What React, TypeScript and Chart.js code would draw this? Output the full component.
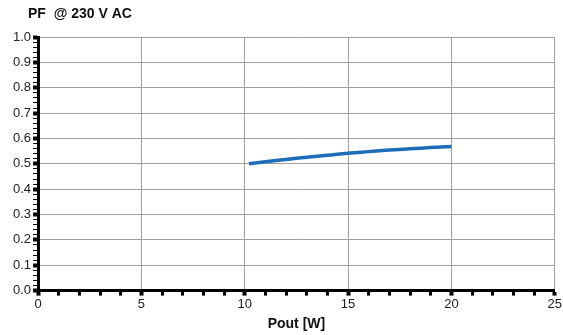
import React, { useEffect, useRef } from "react";
import { Chart, registerables } from "chart.js";

Chart.register(...registerables);

const powerOut = [10.2, 11, 12, 13, 14, 15, 16, 17, 18, 19, 20];
const pfValues = [0.5, 0.508, 0.517, 0.526, 0.534, 0.542, 0.548, 0.554, 0.559, 0.564, 0.568];
const chartTitle = "PF  @ 230 V AC";
const xTitle = "Pout [W]";

const titlePlugin = {
  id: "leftTitle",
  afterDraw(chart: any) {
    const ctx = chart.ctx;
    ctx.save();
    ctx.font = "bold 14px 'Liberation Sans', Arial, sans-serif";
    ctx.fillStyle = "#111";
    ctx.textBaseline = "middle";
    ctx.textAlign = "left";
    ctx.fillText(chartTitle, 28, 14);
    ctx.restore();
  },
};

export default function App() {
  const ref = useRef<HTMLCanvasElement | null>(null);
  useEffect(() => {
    document.body.style.margin = "0";
    const chart = new Chart(ref.current!, {
      type: "line",
      data: {
        datasets: [
          {
            data: powerOut.map((x, i) => ({ x, y: pfValues[i] })),
            borderColor: "#1c6cb8",
            borderWidth: 3.5,
            pointRadius: 0,
            tension: 0.4,
            fill: false,
          },
        ],
      },
      plugins: [titlePlugin],
      options: {
        animation: false,
        responsive: false,
        layout: { padding: { top: 37, right: 7, left: 11, bottom: 2 } },
        plugins: { legend: { display: false }, title: { display: false }, tooltip: { enabled: false } },
        scales: {
          x: {
            type: "linear",
            min: 0,
            max: 25,
            border: { color: "#000", width: 3 },
            grid: {
              color: (c: any) => (Math.round(c.tick.value) % 5 === 0 ? "#a0a0a0" : "rgba(0,0,0,0)"),
              lineWidth: 1,
              tickColor: "#000",
              tickLength: 5,
              tickWidth: (c: any) => (Math.round(c.tick.value) % 5 === 0 ? 4 : 3),
            },
            ticks: {
              stepSize: 1,
              autoSkip: false,
              maxRotation: 0,
              color: "#222",
              font: { size: 13, family: "'Liberation Sans', Arial, sans-serif" },
              padding: 1,
              callback: (v: any) => (Math.round(v) % 5 === 0 ? String(Math.round(v)) : ""),
            },
            title: {
              display: true,
              text: xTitle,
              color: "#111",
              font: { size: 14, weight: "bold", family: "'Liberation Sans', Arial, sans-serif" },
              padding: { top: 3, bottom: 0 },
            },
          },
          y: {
            type: "linear",
            min: 0,
            max: 1,
            border: { color: "#000", width: 3 },
            grid: {
              color: (c: any) => (Math.round(c.tick.value * 100) % 10 === 0 ? "#a0a0a0" : "rgba(0,0,0,0)"),
              lineWidth: 1,
              tickColor: "#000",
              tickLength: 5,
              tickWidth: (c: any) => (Math.round(c.tick.value * 100) % 10 === 0 ? 4 : 1),
            },
            ticks: {
              stepSize: 0.02,
              autoSkip: false,
              color: "#222",
              font: { size: 13, family: "'Liberation Sans', Arial, sans-serif" },
              padding: 2,
              callback: (v: any) => (Math.round(v * 100) % 10 === 0 ? Number(v).toFixed(1) : ""),
            },
          },
        },
      },
    });
    return () => chart.destroy();
  }, []);
  return (
    <div style={{ width: 563, height: 335, background: "#fff" }}>
      <canvas ref={ref} width={563} height={335} />
    </div>
  );
}
